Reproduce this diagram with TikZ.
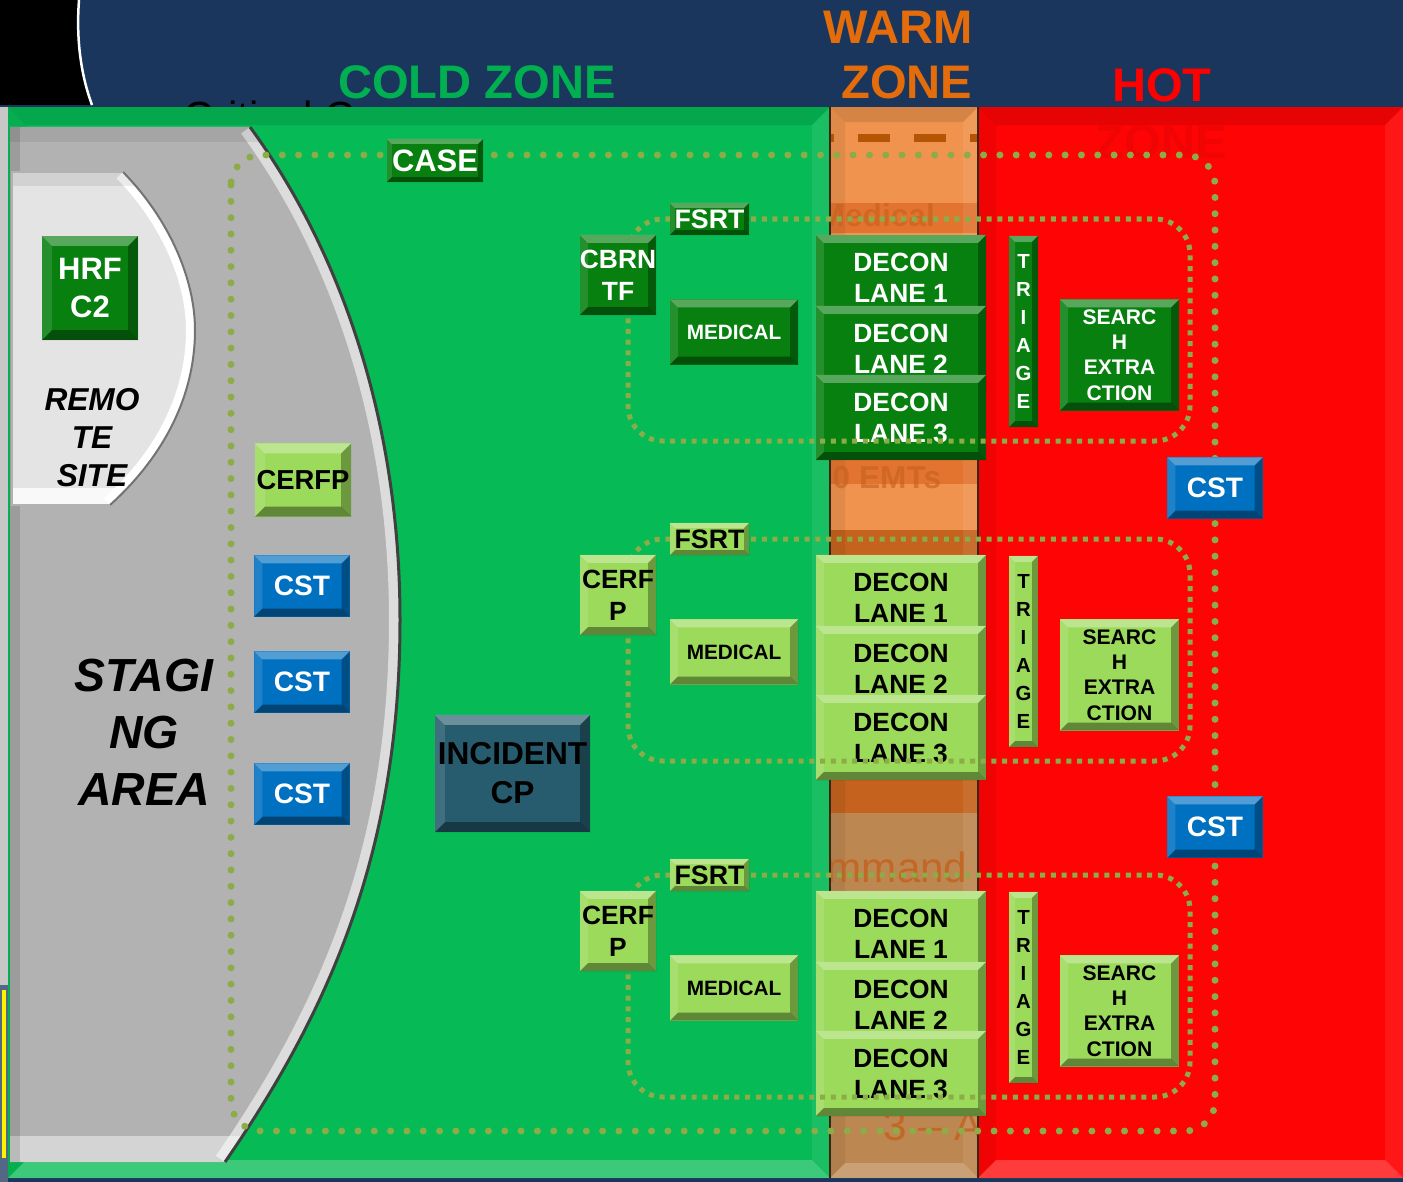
\documentclass[tikz,border=0pt]{standalone}
\usepackage{fontspec}
\setmainfont{Liberation Sans}
\definecolor{navyc}{RGB}{27,54,93}
\definecolor{coldc}{RGB}{6,186,85}
\definecolor{warmc}{RGB}{239,147,78}
\definecolor{warmd}{RGB}{226,116,48}
\definecolor{warmb}{RGB}{196,98,30}
\definecolor{warmt}{RGB}{188,135,80}
\definecolor{hotc}{RGB}{255,4,4}
\definecolor{coldt}{RGB}{0,176,80}
\definecolor{warmtxt}{RGB}{228,108,10}
\definecolor{dkgreen}{RGB}{8,128,16}
\definecolor{ltgreen}{RGB}{155,218,90}
\definecolor{cstc}{RGB}{0,112,192}
\definecolor{cpc}{RGB}{38,92,110}
\definecolor{dotc}{RGB}{140,172,72}
\definecolor{stagec}{RGB}{178,178,178}
\definecolor{remotec}{RGB}{228,228,228}
\definecolor{ghostc}{RGB}{196,96,28}
\definecolor{dashc}{RGB}{180,85,5}
\tikzset{
  bev/.style n args={5}{path picture={
    \coordinate (bnw) at (path picture bounding box.north west);
    \coordinate (bne) at (path picture bounding box.north east);
    \coordinate (bsw) at (path picture bounding box.south west);
    \coordinate (bse) at (path picture bounding box.south east);
    \fill[#2] (bnw) -- (bne) -- ([xshift=-#1,yshift=-#1]bne) -- ([xshift=#1,yshift=-#1]bnw) -- cycle;
    \fill[#3] (bsw) -- (bse) -- ([xshift=-#1,yshift=#1]bse) -- ([xshift=#1,yshift=#1]bsw) -- cycle;
    \fill[#4] (bne) -- (bse) -- ([xshift=-#1,yshift=#1]bse) -- ([xshift=-#1,yshift=-#1]bne) -- cycle;
    \fill[#5] (bnw) -- (bsw) -- ([xshift=#1,yshift=#1]bsw) -- ([xshift=#1,yshift=-#1]bnw) -- cycle;}},
  raised/.style={bev={#1}{white,opacity=.32}{black,opacity=.38}{black,opacity=.3}{white,opacity=.12}},
  raised/.default=0.08cm,
  sunken/.style={bev={#1}{black,opacity=.1}{white,opacity=.22}{white,opacity=.08}{black,opacity=.06}},
  sunken/.default=0.18cm,
  box/.style={rectangle, fill=#1, raised, inner sep=0pt, align=center},
  lanebox/.style={box=#1, minimum width=1.70cm, minimum height=0.85cm, font=\bfseries\fontsize{7.5}{8.8}\selectfont},
  medbox/.style={box=#1, minimum width=1.28cm, minimum height=0.65cm, font=\bfseries\fontsize{5.9}{7}\selectfont},
  fsrtbox/.style={box=#1, raised=0.05cm, minimum width=0.79cm, minimum height=0.32cm, font=\bfseries\fontsize{7.6}{8}\selectfont},
  unitbox/.style={box=#1, minimum width=0.76cm, minimum height=0.80cm, font=\bfseries\fontsize{7.5}{9.1}\selectfont},
  triagebox/.style={box=#1, raised=0.06cm, minimum width=0.29cm, minimum height=1.91cm, font=\bfseries\fontsize{5.8}{7.95}\selectfont},
  searchbox/.style={box=#1, minimum width=1.19cm, minimum height=1.11cm, font=\bfseries\fontsize{6}{7.2}\selectfont},
  cstbox/.style={box=cstc, text=white, minimum width=0.95cm, minimum height=0.61cm, font=\bfseries\fontsize{8}{9}\selectfont},
  casebox/.style={box=dkgreen, raised=0.05cm, text=white, minimum width=0.96cm, minimum height=0.43cm, font=\bfseries\fontsize{8.8}{9}\selectfont},
  hrfbox/.style={box=dkgreen, raised=0.1cm, text=white, minimum width=0.96cm, minimum height=1.04cm, font=\bfseries\fontsize{8.8}{10.8}\selectfont},
  cerfpbox/.style={box=ltgreen, raised=0.1cm, minimum width=0.96cm, minimum height=0.73cm, font=\bfseries\fontsize{7.8}{9}\selectfont},
  cpbox/.style={box=cpc, raised=0.1cm, minimum width=1.55cm, minimum height=1.17cm, font=\bfseries\fontsize{9}{11.1}\selectfont},
  title/.style={inner sep=0pt, font=\bfseries\fontsize{13.4}{15.9}\selectfont},
  bigtxt/.style={inner sep=0pt, align=center, font=\bfseries\itshape\fontsize{13.2}{16.2}\selectfont},
  sitetxt/.style={inner sep=0pt, align=center, font=\bfseries\itshape\fontsize{9}{10.8}\selectfont},
  ghost/.style={inner sep=0pt, text=ghostc, opacity=.6, font=\bfseries\fontsize{9}{10}\selectfont},
  ghostthin/.style={inner sep=0pt, text=ghostc, opacity=.8, font=\fontsize{12}{14}\selectfont},
  sqdots/.style={draw=dotc, line width=0.05cm, dash pattern=on 0.05cm off 0.057cm, rounded corners=0.35cm},
  rounddots/.style={draw=dotc, line width=0.07cm, line cap=round, dash pattern=on 0pt off 0.163cm, rounded corners=0.3cm},
}
\def\stagepath{(10,127) -- (250,127) .. controls (340,250) and (400,420) .. (400,620) .. controls (400,850) and (330,1010) .. (225,1162) -- (10,1162) -- cycle}
\def\stagecurve{(250,127) .. controls (340,250) and (400,420) .. (400,620) .. controls (400,850) and (330,1010) .. (225,1162)}
\def\remotepath{(12,172) -- (123,172) .. controls (170,220) and (195,280) .. (195,330) .. controls (195,400) and (160,460) .. (110,505) -- (12,505) -- cycle}
\def\remotecurve{(123,172) .. controls (170,220) and (195,280) .. (195,330) .. controls (195,400) and (160,460) .. (110,505)}
\newcommand{\opsgroup}[5]{%
  \node[lanebox=#3, text=#4] (#1l1) at (901,{277.5+#2}) {DECON\\LANE 1};
  \node[lanebox=#3, text=#4] (#1l2) at (901,{348.5+#2}) {DECON\\LANE 2};
  \node[lanebox=#3, text=#4] (#1l3) at (901,{417.5+#2}) {DECON\\LANE 3};
  \node[triagebox=#3, text=#4] (#1tr) at (1023.5,{331.5+#2}) {T\\R\\I\\A\\G\\E};
  \node[searchbox=#3, text=#4] (#1se) at (1119.5,{355+#2}) {SEARC\\H\\EXTRA\\CTION};
  \node[medbox=#3, text=#4] (#1me) at (734,{332+#2}) {MEDICAL};
  \draw[sqdots] (628,{219+#2}) rectangle (1190,{441+#2});
  \node[fsrtbox=#3, text=#4] (#1fs) at (709.5,{219+#2}) {FSRT};
  \node[unitbox=#3, text=#4] (#1un) at (618,{275+#2}) {#5};}
\begin{document}
\begin{tikzpicture}[x=0.01cm, y=-0.01cm]
  \useasboundingbox (0,0) rectangle (1403,1182);
  \fill[navyc] (0,0) rectangle (1403,1182);
  \fill[black] (0,0) -- (79,0) .. controls (76,40) and (81,75) .. (92,105) -- (0,105) -- cycle;
  \draw[white, line width=0.025cm] (79,0) .. controls (76,40) and (81,75) .. (92,105);
  \node[anchor=north west, inner sep=0pt, font=\fontsize{12}{14}\selectfont] (crit) at (183,100) {Critical C};
  \node[title, text=coldt] (cold) at (477,82) {COLD ZONE};
  \node[title, text=warmtxt, align=right, anchor=east] (warm) at (973,55) {WARM\\ZONE};
  \node[title, text=red] (hot) at (1162,85) {HOT};
  \fill[black!22] (0,107) rectangle (8,1182);
  \fill[navyc!75!white] (0,985) rectangle (8,1182);
  \fill[yellow] (2,990) rectangle (6,1158);
  \path[fill=coldc, sunken] (8,107) rectangle (830,1178);
  \path[fill=hotc, sunken] (978,107) rectangle (1403,1178);
  \node[title, text=hotc!94!black] (hotzone) at (1161,142) {ZONE};
  \fill[warmc] (830,107) rectangle (978,1178);
  \fill[warmd] (830,203) rectangle (978,233);
  \fill[warmd] (830,460) rectangle (978,484);
  \fill[warmb] (830,530) rectangle (978,556);
  \fill[warmb] (830,780) rectangle (978,813);
  \fill[warmt] (830,813) rectangle (978,1178);
  \path[sunken=0.15cm] (830,107) rectangle (978,1178);
  \draw[dashc, line width=0.08cm, dash pattern=on 0.32cm off 0.24cm, dash phase=0.28cm] (830,138) -- (978,138);
  \begin{scope}
    \clip (830,107) rectangle (978,1178);
    \node[ghost, anchor=base west] (gmed) at (818,226) {Medical};
    \node[ghost, anchor=base west] (gemt) at (832,488) {0 EMTs};
    \node[ghostthin, anchor=base west] (gcmd) at (826,882) {mmand};
    \node[ghostthin, anchor=base west] (gnum) at (883,1140) {3 – A};
  \end{scope}
  \draw[black!70!brown, line width=0.02cm] (830,107) -- (830,1178) (978,107) -- (978,1178);
  \fill[stagec] \stagepath;
  \begin{scope}
    \clip \stagepath;
    \draw[stagec!45!white, line width=0.22cm] \stagecurve;
    \fill[white, opacity=.45] (10,1136) rectangle (420,1162);
    \fill[black, opacity=.12] (10,127) rectangle (20,1162);
    \fill[black, opacity=.07] (10,127) rectangle (400,142);
  \end{scope}
  \draw[black!75, line width=0.03cm] \stagecurve;
  \fill[remotec] \remotepath;
  \begin{scope}
    \clip \remotepath;
    \draw[white, line width=0.18cm] \remotecurve;
    \fill[white, opacity=.8] (12,488) rectangle (200,505);
    \fill[black, opacity=.08] (12,172) rectangle (200,186);
  \end{scope}
  \draw[black!55, line width=0.02cm] \remotecurve;
  \draw[black!30, line width=0.015cm] (110,505) -- (12,505) -- (12,172) -- (123,172);
  \node[bigtxt] (staging) at (144,732) {STAGI\\NG\\AREA};
  \node[sitetxt] (remote) at (92,438) {REMO\\TE\\SITE};
  \node[hrfbox] (hrf) at (90,288) {HRF\\C2};
  \node[cerfpbox] (cerfp) at (303,480) {CERFP};
  \node[cstbox] (cst1) at (302,586) {CST};
  \node[cstbox] (cst2) at (302,682) {CST};
  \node[cstbox] (cst3) at (302,794) {CST};
  \node[cpbox] (icp) at (512.5,773.5) {INCIDENT\\CP};
  \opsgroup{a}{0}{dkgreen}{white}{CBRN\\TF}
  \opsgroup{b}{320}{ltgreen}{black}{CERF\\P}
  \opsgroup{c}{656}{ltgreen}{black}{CERF\\P}
  \draw[rounddots] (231,155) rectangle (1215,1131);
  \node[casebox] (case) at (435,160.5) {CASE};
  \node[cstbox] (cst4) at (1215,488) {CST};
  \node[cstbox] (cst5) at (1215,827) {CST};
\end{tikzpicture}
\end{document}
